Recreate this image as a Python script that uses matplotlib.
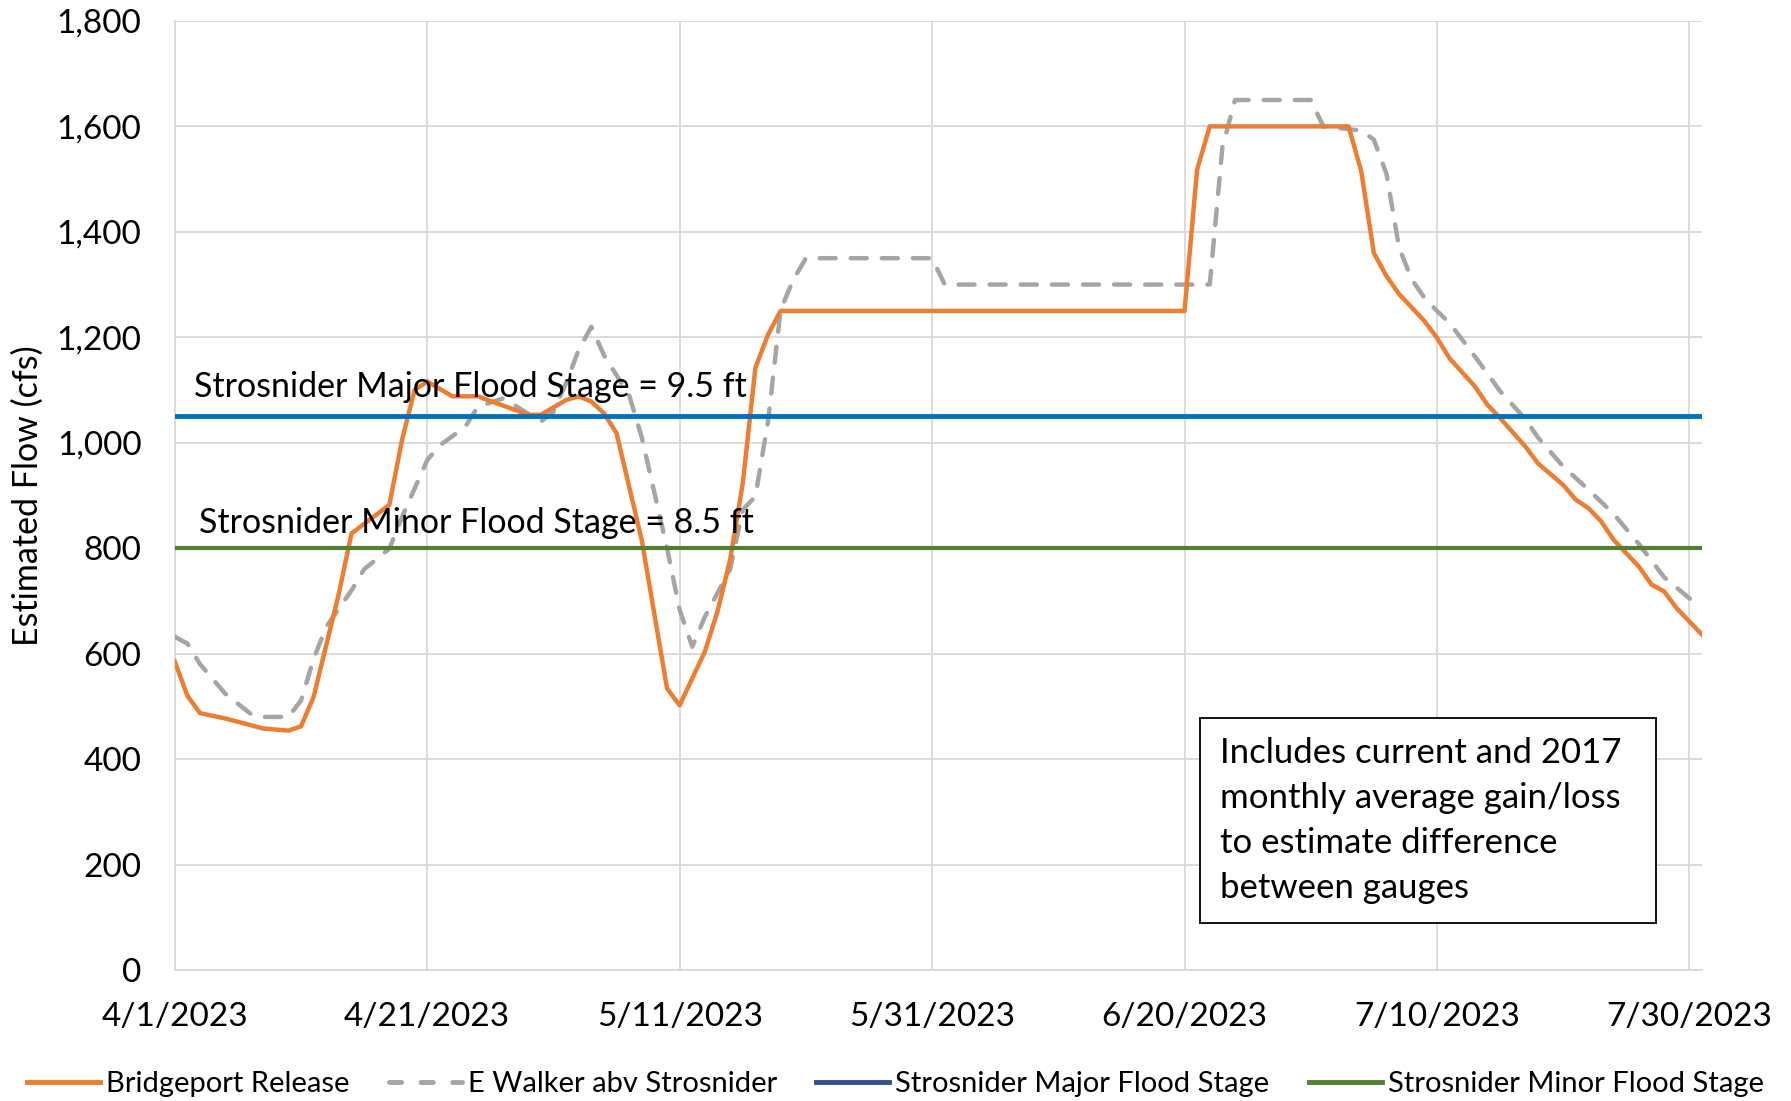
import matplotlib
matplotlib.use('Agg')
import matplotlib.pyplot as plt
from matplotlib.lines import Line2D
from matplotlib.patches import Rectangle
from matplotlib.ticker import FuncFormatter
import numpy as np
import pandas as pd

# day offsets from 4/1/2023 and estimated flow (cfs)
bridgeport_days = [0, 1, 2, 4, 7, 9, 10, 11, 13, 14, 17, 18, 19, 20, 22, 24, 28, 29, 31, 32,
                   33, 34, 35, 37, 39, 40, 42, 43, 44, 45, 46, 47, 48, 80, 81, 82, 93, 94, 95,
                   96, 97, 99, 100, 101, 103, 104, 105, 107, 108, 110, 111, 112, 113, 114,
                   116, 117, 118, 119, 121]
bridgeport_flow = [585, 520, 487, 477, 458, 454, 462, 518, 714, 828, 882, 1005, 1100, 1116,
                   1088, 1088, 1053, 1053, 1081, 1088, 1078, 1056, 1018, 815, 534, 502, 604,
                   680, 778, 923, 1142, 1205, 1250, 1250, 1518, 1600, 1600, 1515, 1360, 1316,
                   1282, 1231, 1199, 1160, 1107, 1072, 1047, 993, 961, 920, 892, 876, 851,
                   816, 765, 731, 718, 686, 636]

ewalker_days = [0, 1, 2, 4, 6, 7, 9, 10, 11, 12, 14, 15, 17, 18, 20, 21, 23, 24, 26, 27, 29,
                30, 31, 32, 33, 34, 36, 37, 38, 39, 40, 41, 42, 44, 45, 46, 47, 48, 49, 50,
                60, 61, 82, 83, 84, 90, 91, 94, 95, 96, 97, 98, 99, 100, 101, 103, 105, 107,
                108, 110, 112, 114, 116, 118, 120, 121]
ewalker_flow = [632, 619, 580, 524, 486, 480, 480, 511, 590, 651, 720, 760, 799, 859, 967,
                995, 1030, 1068, 1084, 1070, 1040, 1059, 1113, 1176, 1220, 1166, 1090, 1010,
                905, 800, 683, 613, 670, 760, 873, 898, 1040, 1252, 1309, 1350, 1350, 1300,
                1300, 1560, 1650, 1650, 1600, 1592, 1575, 1510, 1370, 1310, 1275, 1250,
                1227, 1164, 1098, 1045, 1010, 955, 911, 865, 808, 745, 705, 689]

major_flood = 1050
minor_flood = 800
major_label = 'Strosnider Major Flood Stage = 9.5 ft'
minor_label = 'Strosnider Minor Flood Stage = 8.5 ft'
note_text = ('Includes current and 2017\nmonthly average gain/loss\n'
             'to estimate difference\nbetween gauges')
legend_labels = ['Bridgeport Release', 'E Walker abv Strosnider',
                 'Strosnider Major Flood Stage', 'Strosnider Minor Flood Stage']

start = pd.Timestamp('2023-04-01')
end = pd.Timestamp('2023-07-31')
bp_dates = start + pd.to_timedelta(bridgeport_days, unit='D')
ew_dates = start + pd.to_timedelta(ewalker_days, unit='D')

plt.rcParams['font.family'] = ['Lato', 'DejaVu Sans']

orange = '#ED7D31'
grey = '#A5A5A5'
blue = '#0070C0'
green = '#507E32'
navy = '#2F4F8F'

fig = plt.figure(figsize=(17.91, 11.01), dpi=100)
ax = fig.add_axes([0.0976, 0.119, 0.8527, 0.862])

ax.plot(ew_dates, ewalker_flow, color=grey, lw=3.2, dashes=(3.6, 3.4),
        dash_capstyle='round', zorder=3)
ax.plot(bp_dates, bridgeport_flow, color=orange, lw=3.2, zorder=4)
ax.axhline(major_flood, color=blue, lw=3.5, zorder=5)
ax.axhline(minor_flood, color=green, lw=3.0, zorder=5)

ax.text(start + pd.Timedelta(days=1.5), major_flood + 55, major_label, fontsize=24.5,
        va='center', ha='left', zorder=6)
ax.text(start + pd.Timedelta(days=1.9), minor_flood + 47, minor_label, fontsize=24.5,
        va='center', ha='left', zorder=6)

# note box
ax.add_patch(Rectangle((0.671, 0.049), 0.299, 0.217, transform=ax.transAxes,
                       fc='white', ec='black', lw=1.3, zorder=7))
ax.text(0.6845, 0.1576, note_text, transform=ax.transAxes, fontsize=25, va='center',
        ha='left', linespacing=1.5, zorder=8)

ax.set_xlim(start, end)
ax.set_ylim(0, 1800)
ax.set_yticks(np.arange(0, 1801, 200))
ax.yaxis.set_major_formatter(FuncFormatter(lambda v, p: f'{int(v):,}'))
xt = [start + pd.Timedelta(days=d) for d in range(0, 121, 20)]
ax.set_xticks(xt)
ax.set_xticklabels([f'{d.month}/{d.day}/{d.year}' for d in xt])

ax.grid(True, color='#D9D9D9', lw=1.3, zorder=0)
ax.set_axisbelow(True)
for s in ['top', 'right']:
    ax.spines[s].set_visible(False)
for s in ['left', 'bottom']:
    ax.spines[s].set_color('#D9D9D9')
    ax.spines[s].set_linewidth(1.3)
ax.tick_params(axis='both', length=0, labelsize=24, colors='black')
ax.tick_params(axis='x', pad=23)
ax.tick_params(axis='y', pad=24)
ax.set_ylabel('Estimated Flow (cfs)', fontsize=24.5, labelpad=9)

handles = [Line2D([], [], color=orange, lw=3.5),
           Line2D([], [], color=grey, lw=3.5, dashes=(2.5, 4), dash_capstyle='round'),
           Line2D([], [], color=navy, lw=3.5),
           Line2D([], [], color=green, lw=3.5)]
fig.legend(handles, legend_labels, loc='center', bbox_to_anchor=(0.5, 0.015), ncol=4,
           frameon=False, fontsize=21, handlelength=2.5, handletextpad=0.2,
           columnspacing=1.35)

fig.savefig('out.png', dpi=100)
